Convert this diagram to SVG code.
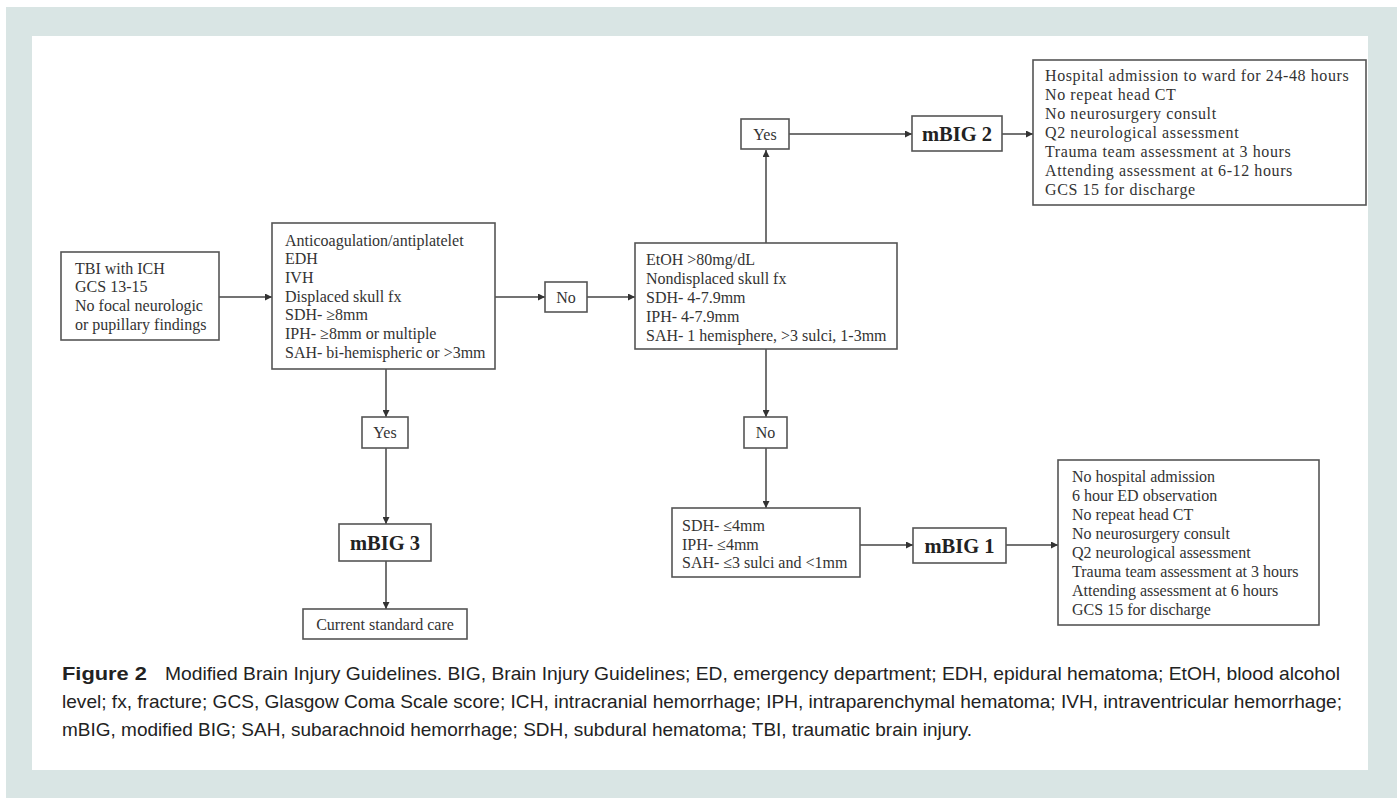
<svg xmlns="http://www.w3.org/2000/svg" width="1400" height="798" viewBox="0 0 1400 798">
<defs>
<marker id="ah" viewBox="0 0 10 10" refX="10" refY="5" markerWidth="7" markerHeight="7" markerUnits="userSpaceOnUse" orient="auto">
<path d="M0,0 L10,5 L0,10 z" fill="#333"/>
</marker>
<style>
.box{fill:#fff;stroke:#555;stroke-width:1.6}
.t{font-family:"Liberation Serif","Times New Roman",serif;font-size:16px;fill:#333}
.w{letter-spacing:0.6px}
.c{text-anchor:middle}
.b{font-family:"Liberation Serif","Times New Roman",serif;font-size:20.5px;font-weight:bold;fill:#222;text-anchor:middle}
.ln{stroke:#444;stroke-width:1.5;fill:none;marker-end:url(#ah)}
.cap{font-family:"Liberation Sans",Arial,sans-serif;font-size:18.5px;fill:#222}
</style>
</defs>
<rect x="0" y="0" width="1400" height="798" fill="#fff"/>
<rect x="6" y="7" width="1391" height="791" fill="#d9e5e4"/>
<rect x="32" y="36" width="1336" height="734" fill="#fff"/>

<g id="connectors">
<line class="ln" x1="219" y1="297" x2="272" y2="297"/>
<line class="ln" x1="495" y1="297" x2="545" y2="297"/>
<line class="ln" x1="587" y1="297" x2="635" y2="297"/>
<line class="ln" x1="766" y1="243" x2="766" y2="150"/>
<line class="ln" x1="789" y1="134" x2="912" y2="134"/>
<line class="ln" x1="1002" y1="134" x2="1033" y2="134"/>
<line class="ln" x1="766" y1="349" x2="766" y2="417"/>
<line class="ln" x1="766" y1="448" x2="766" y2="508"/>
<line class="ln" x1="860" y1="545" x2="913" y2="545"/>
<line class="ln" x1="1006" y1="545" x2="1058" y2="545"/>
<line class="ln" x1="386" y1="369" x2="386" y2="417"/>
<line class="ln" x1="386" y1="448" x2="386" y2="524"/>
<line class="ln" x1="386" y1="561" x2="386" y2="609"/>
</g>

<g id="n-tbi">
<rect class="box" x="61" y="252" width="158" height="88"/>
<text class="t" x="75" y="273.5">TBI with ICH</text>
<text class="t" x="75" y="292.2">GCS 13-15</text>
<text class="t" x="75" y="310.9">No focal neurologic</text>
<text class="t" x="75" y="329.6">or pupillary findings</text>
</g>

<g id="n-criteria3">
<rect class="box" x="272" y="223" width="223" height="146"/>
<text class="t" x="285" y="245.5">Anticoagulation/antiplatelet</text>
<text class="t" x="285" y="264.2">EDH</text>
<text class="t" x="285" y="282.9">IVH</text>
<text class="t" x="285" y="301.6">Displaced skull fx</text>
<text class="t" x="285" y="320.3">SDH- ≥8mm</text>
<text class="t" x="285" y="339">IPH- ≥8mm or multiple</text>
<text class="t" x="285" y="357.7">SAH- bi-hemispheric or &gt;3mm</text>
</g>

<g id="n-no1">
<rect class="box" x="545" y="282" width="42" height="30"/>
<text class="t c" x="566" y="302.5">No</text>
</g>

<g id="n-criteria2">
<rect class="box" x="635" y="243" width="262" height="106"/>
<text class="t" x="646" y="264.5">EtOH &gt;80mg/dL</text>
<text class="t" x="646" y="283.5">Nondisplaced skull fx</text>
<text class="t" x="646" y="302.5">SDH- 4-7.9mm</text>
<text class="t" x="646" y="321.5">IPH- 4-7.9mm</text>
<text class="t" x="646" y="340.5">SAH- 1 hemisphere, &gt;3 sulci, 1-3mm</text>
</g>

<g id="n-yes2">
<rect class="box" x="741" y="119" width="48" height="30"/>
<text class="t c" x="765" y="139.5">Yes</text>
</g>

<g id="n-mbig2">
<rect class="box" x="912" y="116" width="90" height="35"/>
<text class="b" x="957" y="141">mBIG 2</text>
</g>

<g id="n-mbig2-care">
<rect class="box" x="1033" y="60" width="333" height="145"/>
<text class="t w" x="1045" y="80.5">Hospital admission to ward for 24-48 hours</text>
<text class="t w" x="1045" y="99.5">No repeat head CT</text>
<text class="t w" x="1045" y="118.5">No neurosurgery consult</text>
<text class="t w" x="1045" y="137.5">Q2 neurological assessment</text>
<text class="t w" x="1045" y="156.5">Trauma team assessment at 3 hours</text>
<text class="t w" x="1045" y="175.5">Attending assessment at 6-12 hours</text>
<text class="t w" x="1045" y="194.5">GCS 15 for discharge</text>
</g>

<g id="n-no2">
<rect class="box" x="744" y="417" width="43" height="31"/>
<text class="t c" x="765.5" y="437.5">No</text>
</g>

<g id="n-criteria1">
<rect class="box" x="672" y="508" width="188" height="69"/>
<text class="t" x="682" y="530.5">SDH- ≤4mm</text>
<text class="t" x="682" y="549.5">IPH- ≤4mm</text>
<text class="t" x="682" y="568">SAH- ≤3 sulci and &lt;1mm</text>
</g>

<g id="n-mbig1">
<rect class="box" x="913" y="528" width="93" height="35"/>
<text class="b" x="959.5" y="553">mBIG 1</text>
</g>

<g id="n-mbig1-care">
<rect class="box" x="1058" y="460" width="261" height="165"/>
<text class="t" x="1072" y="481.5">No hospital admission</text>
<text class="t" x="1072" y="500.5">6 hour ED observation</text>
<text class="t" x="1072" y="519.5">No repeat head CT</text>
<text class="t" x="1072" y="538.5">No neurosurgery consult</text>
<text class="t" x="1072" y="557.5">Q2 neurological assessment</text>
<text class="t" x="1072" y="576.5">Trauma team assessment at 3 hours</text>
<text class="t" x="1072" y="595.5">Attending assessment at 6 hours</text>
<text class="t" x="1072" y="614.5">GCS 15 for discharge</text>
</g>

<g id="n-yes3">
<rect class="box" x="362" y="417" width="46" height="31"/>
<text class="t c" x="385" y="437.5">Yes</text>
</g>

<g id="n-mbig3">
<rect class="box" x="339" y="524" width="92" height="37"/>
<text class="b" x="385" y="550">mBIG 3</text>
</g>

<g id="n-standard">
<rect class="box" x="303" y="609" width="164" height="30"/>
<text class="t c" x="385" y="629.5">Current standard care</text>
</g>

<g id="caption">
<text class="cap" x="62" y="680" font-weight="bold" textLength="85" lengthAdjust="spacingAndGlyphs">Figure 2</text>
<text class="cap" x="165" y="680" textLength="1175" lengthAdjust="spacingAndGlyphs">Modified Brain Injury Guidelines. BIG, Brain Injury Guidelines; ED, emergency department; EDH, epidural hematoma; EtOH, blood alcohol</text>
<text class="cap" x="62" y="708" textLength="1280" lengthAdjust="spacingAndGlyphs">level; fx, fracture; GCS, Glasgow Coma Scale score; ICH, intracranial hemorrhage; IPH, intraparenchymal hematoma; IVH, intraventricular hemorrhage;</text>
<text class="cap" x="62" y="736" textLength="910" lengthAdjust="spacingAndGlyphs">mBIG, modified BIG; SAH, subarachnoid hemorrhage; SDH, subdural hematoma; TBI, traumatic brain injury.</text>
</g>
</svg>
